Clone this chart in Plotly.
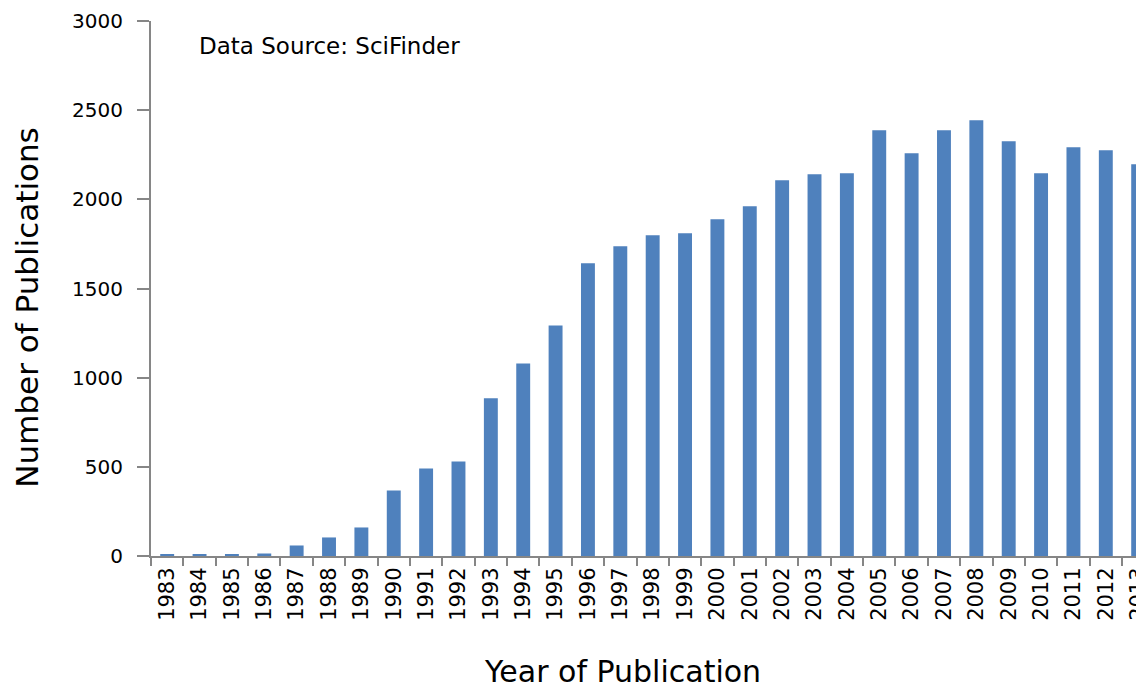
import plotly.graph_objects as go

years = [str(y) for y in range(1983, 2014)]
publications = [8, 8, 8, 14, 59, 104, 160, 367, 491, 530,
                884, 1080, 1293, 1641, 1737, 1799, 1810, 1888, 1961, 2107,
                2141, 2146, 2388, 2259, 2388, 2444, 2326, 2146, 2292, 2275, 2197]
y_ticks = [0, 500, 1000, 1500, 2000, 2500, 3000]

FONT = "DejaVu Sans"
AXIS = "#868686"

fig = go.Figure()
fig.add_trace(go.Bar(x=years, y=publications, marker=dict(color="#4F81BD", line=dict(width=0)),
                     hoverinfo="x+y"))

fig.update_layout(
    width=1136, height=682,
    margin=dict(l=143, r=0, t=13, b=134, autoexpand=False),
    paper_bgcolor="white", plot_bgcolor="white",
    bargap=0.57, showlegend=False,
    font=dict(family=FONT, color="black"),
    xaxis=dict(
        type="category", range=[-0.5, 30.18], automargin=False,
        showline=True, linecolor=AXIS, linewidth=2,
        ticks="outside", tickson="boundaries", ticklen=8, tickcolor=AXIS, tickwidth=2,
        tickangle=-90, tickfont=dict(size=21, family=FONT, color="black"),
        showgrid=False, zeroline=False, ticklabelstandoff=1,
    ),
    yaxis=dict(
        range=[0, 3000], tickvals=y_ticks, automargin=False,
        showline=True, linecolor=AXIS, linewidth=2,
        ticks="outside", ticklen=12, tickcolor=AXIS, tickwidth=2,
        tickfont=dict(size=20, family=FONT, color="black"),
        showgrid=False, zeroline=False, ticklabelstandoff=10,
    ),
    annotations=[
        dict(text="Data Source: SciFinder", xref="paper", yref="paper", x=0.046, y=0.954,
             xanchor="left", yanchor="middle", showarrow=False,
             font=dict(size=23, family=FONT, color="black")),
        dict(text="Number of Publications", xref="paper", yref="paper", x=-0.125, y=0.464,
             xanchor="center", yanchor="middle", showarrow=False, textangle=-90,
             font=dict(size=31, family=FONT, color="black")),
        dict(text="Year of Publication", xref="paper", yref="paper", x=0.475, y=-0.216,
             xanchor="center", yanchor="middle", showarrow=False,
             font=dict(size=30, family=FONT, color="black")),
    ],
)

fig.write_html("out.html")
